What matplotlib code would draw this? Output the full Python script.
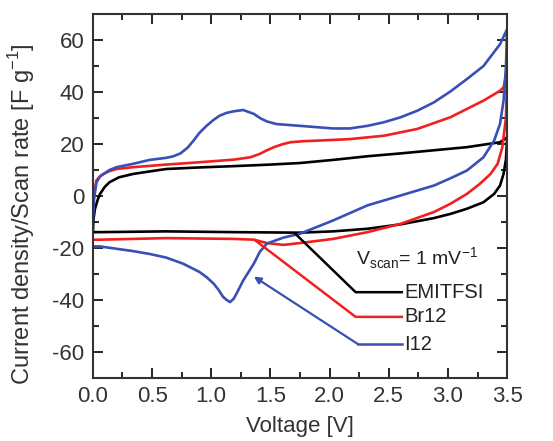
import numpy as np
import matplotlib.pyplot as plt

plt.rcParams['font.family'] = ['Liberation Sans', 'DejaVu Sans']
plt.rcParams['mathtext.fontset'] = 'custom'
plt.rcParams['mathtext.rm'] = 'Liberation Sans'
plt.rcParams['axes.unicode_minus'] = False

# EMITFSI - forward (anodic) and reverse (cathodic) scan
emi_fwd_v = [0.0, 0.005, 0.017, 0.04, 0.06, 0.1, 0.14, 0.22, 0.34, 0.5, 0.62, 0.9, 1.19, 1.5, 1.75,
             2.03, 2.32, 2.6, 2.88, 3.16, 3.44, 3.5]
emi_fwd_j = [-13.9, -9.0, -5.0, -1.5, 0.8, 3.5, 5.3, 7.2, 8.5, 9.6, 10.4, 11.0, 11.5, 12.1, 12.7,
             13.9, 15.3, 16.4, 17.6, 18.8, 20.7, 22.6]
emi_rev_v = [3.5, 3.495, 3.49, 3.47, 3.44, 3.39, 3.3, 3.16, 3.02, 2.88, 2.6, 2.32, 2.03, 1.75, 1.19,
             0.62, 0.06, 0.0]
emi_rev_j = [22.6, 18.0, 14.0, 8.5, 4.0, 0.8, -2.4, -4.9, -6.9, -8.5, -10.9, -12.6, -13.6, -14.1,
             -13.9, -13.6, -13.9, -13.9]

# Br12
br_fwd_v = [0.0, 0.01, 0.03, 0.06, 0.09, 0.14, 0.2, 0.34, 0.62, 0.9, 1.19, 1.33, 1.41, 1.47, 1.53,
            1.6, 1.67, 1.78, 1.89, 2.17, 2.46, 2.74, 3.02, 3.3, 3.44, 3.47, 3.5]
br_fwd_j = [-6.0, 1.0, 6.0, 7.6, 8.5, 9.6, 10.4, 11.1, 12.1, 13.0, 14.0, 14.9, 16.2, 17.6, 18.8,
            19.9, 20.7, 21.1, 21.3, 21.9, 23.2, 25.8, 30.3, 36.7, 40.5, 41.8, 48.5]
br_rev_v = [3.5, 3.495, 3.49, 3.46, 3.42, 3.36, 3.27, 3.16, 3.02, 2.88, 2.6, 2.32, 2.03, 1.75, 1.61,
            1.47, 1.36, 1.19, 0.62, 0.06, 0.0]
br_rev_j = [48.5, 38.0, 30.0, 18.8, 12.4, 8.5, 4.7, 0.8, -3.0, -6.2, -10.7, -13.9, -16.5, -18.1,
            -18.8, -18.1, -16.8, -16.5, -16.2, -16.8, -16.8]

# I12
i_fwd_v = [0.0, 0.01, 0.03, 0.06, 0.09, 0.14, 0.2, 0.34, 0.48, 0.62, 0.68, 0.74, 0.8, 0.85, 0.9,
           0.96, 1.02, 1.07, 1.13, 1.19, 1.27, 1.36, 1.42, 1.47, 1.55, 1.75, 2.03, 2.17, 2.32, 2.46,
           2.6, 2.74, 2.88, 3.02, 3.16, 3.3, 3.44, 3.5]
i_fwd_j = [-10.0, -1.0, 5.3, 7.5, 8.5, 10.0, 11.1, 12.4, 13.9, 14.7, 15.3, 16.4, 18.6, 21.3, 24.3,
           27.0, 29.3, 30.9, 32.0, 32.6, 33.1, 31.6, 29.8, 28.7, 27.7, 27.0, 26.0, 26.0, 27.0, 28.4,
           30.3, 32.8, 36.0, 40.2, 45.0, 50.0, 58.4, 64.2]
i_rev_v = [3.5, 3.495, 3.49, 3.47, 3.44, 3.39, 3.3, 3.16, 3.02, 2.88, 2.6, 2.32, 2.03, 1.75, 1.61,
           1.47, 1.41, 1.36, 1.27, 1.22, 1.19, 1.16, 1.13, 1.1, 1.06, 1.02, 0.96, 0.9, 0.76, 0.62, 0.48,
           0.34, 0.06, 0.0]
i_rev_j = [64.2, 57.0, 49.5, 36.7, 27.7, 21.3, 14.9, 9.8, 6.8, 4.0, 0.2, -3.6, -9.4, -14.5, -16.0,
           -18.3, -21.5, -26.0, -32.5, -37.0, -39.5, -40.8, -40.0, -38.8, -36.0, -33.7, -31.2, -29.2,
           -26.0, -23.7, -22.3, -21.2, -19.4, -19.4]

series = [
    ('EMITFSI', 'black', emi_fwd_v, emi_fwd_j, emi_rev_v, emi_rev_j),
    ('Br12', '#f02020', br_fwd_v, br_fwd_j, br_rev_v, br_rev_j),
    ('I12', '#3a4fb5', i_fwd_v, i_fwd_j, i_rev_v, i_rev_j),
]

# leader lines: point on curve -> elbow -> end of line
leaders = {
    'EMITFSI': ([1.71, 2.22, 2.61], [-14.5, -37.0, -37.0]),
    'Br12': ([1.37, 2.22, 2.61], [-17.0, -46.5, -46.5]),
    'I12': ([1.36, 2.24, 2.61], [-31.0, -57.0, -57.0]),
}

fig = plt.figure(figsize=(5.53, 4.41), dpi=100)
ax = fig.add_axes([0.168, 0.143, 0.749, 0.825])

for name, col, fv, fj, rv, rj in series:
    v = np.concatenate([fv, rv])
    j = np.concatenate([fj, rj])
    ax.plot(v, j, color=col, lw=1.9)

for name, col, fv, fj, rv, rj in series:
    lx, ly = leaders[name]
    if name == 'I12':
        ax.plot(lx[1:], ly[1:], color=col, lw=1.8)
        ax.annotate('', xy=(lx[0], ly[0]), xytext=(lx[1], ly[1]),
                    arrowprops=dict(arrowstyle='-|>', color=col, lw=1.6,
                                    mutation_scale=10, shrinkA=0, shrinkB=0))
    else:
        ax.plot(lx, ly, color=col, lw=1.8)
    ax.text(lx[2] + 0.02, ly[2], name, color='#222222', fontsize=14.5,
            va='center', ha='left')

ax.text(2.22, -24, r'V$_{\mathregular{scan}}$= 1 mV$^{\mathregular{-1}}$', fontsize=14,
        color='#222222', va='center', ha='left')

ax.set_xlim(0, 3.5)
ax.set_ylim(-70, 70)
ax.set_xticks(np.arange(0, 3.51, 0.5))
ax.set_xticks(np.arange(0, 3.51, 0.25), minor=True)
ax.set_yticks([-60, -40, -20, 0, 20, 40, 60])
ax.set_yticks(np.arange(-70, 71, 10), minor=True)
ax.tick_params(which='both', direction='in', top=True, right=True, labelsize=16,
               labelcolor='#333333', width=1.2)
ax.tick_params(which='major', length=7, pad=6)
ax.tick_params(which='minor', length=4)
for s in ax.spines.values():
    s.set_linewidth(1.5)
    s.set_color('#333333')

ax.set_xlabel('Voltage [V]', fontsize=16, color='#333333', labelpad=6)
ax.set_ylabel(r'Current density/Scan rate [F g$^{\mathregular{-1}}$]', fontsize=17,
              color='#333333')
ax.yaxis.set_label_coords(-0.135, 0.45)

fig.savefig('out.png', dpi=100)
